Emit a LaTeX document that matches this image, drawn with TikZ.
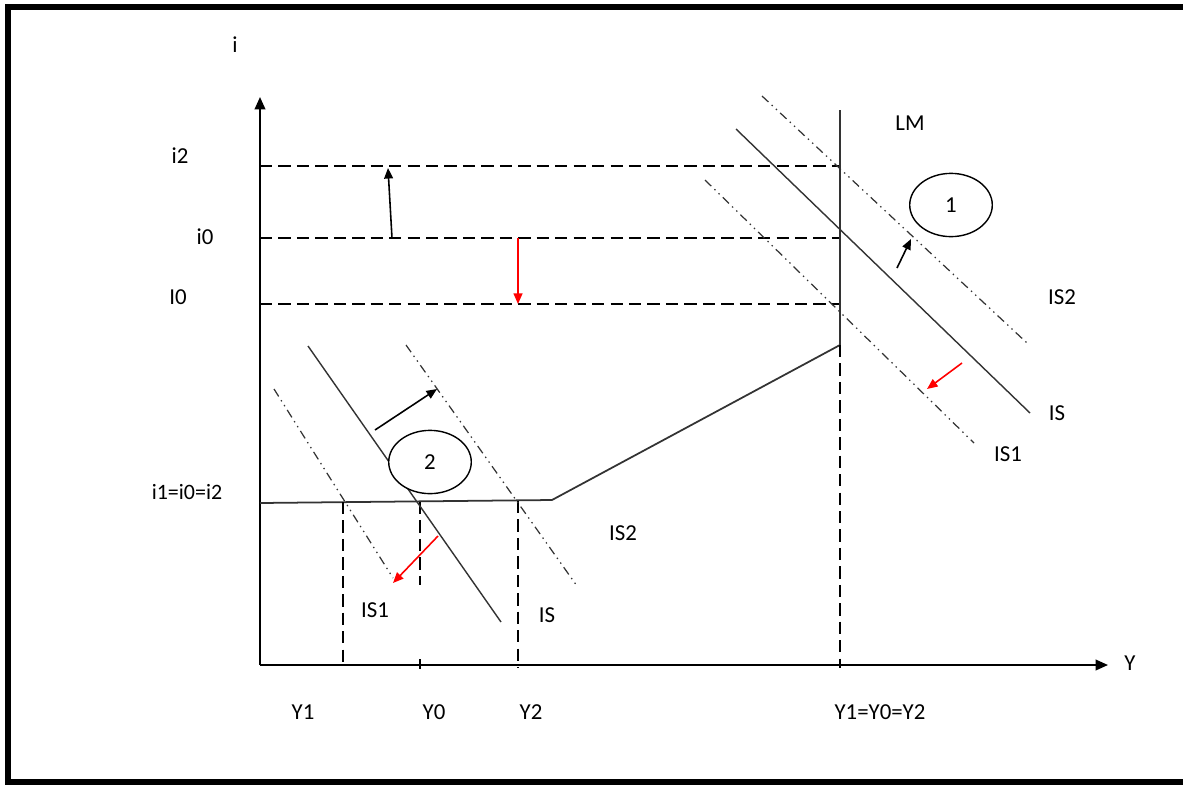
\documentclass[tikz,border=0pt]{standalone}
\usepackage{fontspec}
\setmainfont{Carlito}
\usetikzlibrary{arrows.meta,shapes.geometric}
\begin{document}
\begin{tikzpicture}[x=0.02cm,y=-0.02cm,
  lbl/.style={inner sep=0pt,font=\fontsize{13}{15}\selectfont},
  axis/.style={line width=1.1pt,-{Triangle[length=7pt,width=6pt]}},
  guide/.style={line width=0.9pt,dash pattern=on 7pt off 3.5pt},
  curve/.style={line width=0.8pt,draw=black!80},
  shifted/.style={line width=0.7pt,draw=black!80,dash pattern=on 5pt off 2.5pt on 0.8pt off 2.5pt on 0.8pt off 2.5pt},
  blackarrow/.style={line width=0.9pt,-{Triangle[length=6pt,width=5pt]}},
  redarrow/.style={line width=0.9pt,red,-{Triangle[length=6pt,width=5pt]}},
  bubble/.style={ellipse,draw,line width=0.8pt,minimum width=47pt,minimum height=36pt,inner sep=0pt,font=\fontsize{13}{15}\selectfont}]
\useasboundingbox (0,0) rectangle (1183,785);
% frame
\draw[line width=3.4pt] (1183,7) -- (8,7) -- (8,782) -- (1183,782);
% axes
\coordinate (O) at (260,665);
\coordinate (ytip) at (260,97);
\coordinate (xtip) at (1108,665);
\draw[axis] (O) -- (ytip);
\draw[axis] (O) -- (xtip);
\coordinate (tk1) at (420,659); \coordinate (tk2) at (420,669);
\draw[line width=0.8pt] (tk1) -- (tk2);
\node[lbl] (ilab) at (235,45) {i};
\node[lbl] (Ylab) at (1130,663) {Y};
% horizontal guides
\coordinate (a2) at (260,166); \coordinate (b2) at (840,166);
\coordinate (a0) at (260,238); \coordinate (b0) at (840,238);
\coordinate (aI) at (260,304); \coordinate (bI) at (840,304);
\draw[guide] (a2) -- (b2);
\draw[guide] (a0) -- (b0);
\draw[guide] (aI) -- (bI);
\node[lbl] (i2lab) at (180,156) {i2};
\node[lbl] (i0lab) at (205,237) {i0};
\node[lbl] (I0lab) at (178,297) {I0};
\node[lbl,font=\fontsize{12.5}{15}\selectfont] (i1lab) at (187,492) {i1=i0=i2};
% LM curve
\coordinate (L0) at (260,503);
\coordinate (L1) at (552,500);
\coordinate (L2) at (840,345);
\coordinate (L3) at (840,110);
\draw[curve,line width=1pt] (L0) -- (L1) -- (L2) -- (L3);
\node[lbl] (LMlab) at (910,123) {LM};
% vertical guides
\coordinate (v1t) at (343,502); \coordinate (v1b) at (343,668);
\coordinate (v0t) at (420,502); \coordinate (v0b) at (420,585);
\coordinate (v2t) at (518,501); \coordinate (v2b) at (518,668);
\coordinate (v3b) at (840,668);
\draw[guide] (v1t) -- (v1b);
\draw[guide] (v0t) -- (v0b);
\draw[guide] (v2t) -- (v2b);
\draw[guide] (L2) -- (v3b);
\node[lbl] (Y1lab) at (303,712) {Y1};
\node[lbl] (Y0lab) at (434,712) {Y0};
\node[lbl] (Y2lab) at (531,712) {Y2};
\node[lbl] (Yalab) at (880,712) {Y1=Y0=Y2};
% interest arrows
\coordinate (ua) at (392,238); \coordinate (ub) at (388,168);
\draw[blackarrow] (ua) -- (ub);
\coordinate (da) at (518,238); \coordinate (db) at (518,304);
\draw[redarrow] (da) -- (db);
% right IS curves
\coordinate (RS1) at (736,129); \coordinate (RS2) at (1030,413);
\coordinate (RT1) at (762,96); \coordinate (RT2) at (1027,343);
\coordinate (RU1) at (705,180); \coordinate (RU2) at (974,443);
\draw[curve] (RS1) -- (RS2);
\draw[shifted] (RT1) -- (RT2);
\draw[shifted] (RU1) -- (RU2);
\node[bubble] (e1) at (951,205) {1};
\coordinate (rba) at (897,268); \coordinate (rbb) at (911,239);
\draw[blackarrow] (rba) -- (rbb);
\coordinate (rra) at (962,363); \coordinate (rrb) at (927,389);
\draw[redarrow] (rra) -- (rrb);
\node[lbl] (RIS2) at (1062,297) {IS2};
\node[lbl] (RIS) at (1057,413) {IS};
\node[lbl] (RIS1) at (1008,454) {IS1};
% left IS curves
\coordinate (LS1) at (308,346); \coordinate (LS2) at (501,622);
\coordinate (LT1) at (406,345); \coordinate (LT2) at (577,586);
\coordinate (LU1) at (274,389); \coordinate (LU2) at (393,578);
\draw[curve] (LS1) -- (LS2);
\draw[shifted] (LT1) -- (LT2);
\draw[shifted] (LU1) -- (LU2);
\node[bubble,fill=white] (e2) at (430,462) {2};
\coordinate (lba) at (375,430); \coordinate (lbb) at (437,389);
\draw[blackarrow] (lba) -- (lbb);
\coordinate (lra) at (438,536); \coordinate (lrb) at (393,583);
\draw[redarrow] (lra) -- (lrb);
\node[lbl] (LIS1) at (375,610) {IS1};
\node[lbl] (LIS) at (547,615) {IS};
\node[lbl] (LIS2) at (623,533) {IS2};
\end{tikzpicture}
\end{document}
